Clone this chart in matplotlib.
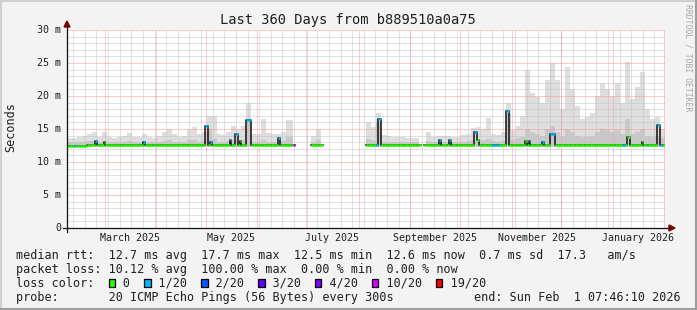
import datetime as dt
import numpy as np
import matplotlib
matplotlib.use("Agg")
import matplotlib.pyplot as plt
from matplotlib.patches import Rectangle, Polygon
from matplotlib.lines import Line2D
from matplotlib.transforms import Affine2D

plt.rcParams['font.family'] = ['DejaVu Sans Mono', 'DejaVu Sans']

W, H = 697, 310

# time window of the graph
start = dt.datetime(2025, 2, 6, 7, 46, 10)
end = dt.datetime(2026, 2, 1, 7, 46, 10)
n_days = 360

# smoke (ping spread) in ms, one value per 3 days
smoke_top = [13.6, 13.6, 13.8, 13.9, 14.3, 14.5, 13.8, 14.6, 13.8, 13.7,
             13.8, 13.9, 14.4, 13.8, 13.8, 14.3, 13.8, 13.7, 13.9, 14.6,
             15.0, 14.2, 13.8, 14.0, 15.0, 15.3, 14.2, 14.6, 17.0, 17.0,
             14.3, 14.1, 14.5, 15.5, 15.0, 15.5, 19.0, 14.2, 14.2, 16.5,
             14.4, 14.3, 14.2, 14.5, 16.4, 16.4, np.nan, np.nan, np.nan, 14.0,
             15.0, 15.9, np.nan, np.nan, np.nan, np.nan, np.nan, np.nan, np.nan, np.nan,
             16.0, 15.3, 17.5, 14.1, 14.0, 13.8, 13.8, 13.8, 13.7, 13.7,
             13.7, np.nan, 14.5, 13.8, 13.9, 14.0, 14.0, 13.8, 13.8, 14.1,
             14.2, 15.1, 15.3, 15.0, 16.6, 14.2, 14.1, 14.5, 19.0, 14.8,
             15.5, 17.0, 24.0, 20.5, 19.8, 19.0, 22.5, 25.0, 22.4, 18.0,
             24.4, 21.0, 18.5, 16.5, 16.8, 17.5, 20.0, 22.0, 21.0, 20.0,
             22.0, 19.0, 25.2, 19.5, 21.4, 23.6, 18.0, 16.5, 16.8, 15.0]
smoke_mid = [13.1, 13.1, 13.1, 13.1, 13.2, 13.2, 13.1, 13.2, 13.1, 13.1,
             13.1, 13.1, 13.2, 13.1, 13.1, 13.1, 13.1, 13.1, 13.1, 13.2,
             13.3, 13.1, 13.1, 13.1, 13.3, 13.3, 13.1, 13.2, 15.0, 13.5,
             13.1, 13.1, 13.2, 13.4, 13.3, 13.4, 16.5, 13.1, 13.1, 13.3,
             13.1, 13.1, 13.1, 13.2, 13.8, 13.8, np.nan, np.nan, np.nan, 13.1,
             13.3, 13.5, np.nan, np.nan, np.nan, np.nan, np.nan, np.nan, np.nan, np.nan,
             13.5, 13.3, 16.0, 13.1, 13.1, 13.1, 13.1, 13.1, 13.1, 13.1,
             13.1, np.nan, 13.2, 13.1, 13.1, 13.1, 13.1, 13.1, 13.1, 13.1,
             13.2, 13.4, 13.4, 13.3, 13.5, 13.2, 13.1, 13.2, 17.5, 13.4,
             13.6, 13.8, 15.0, 14.5, 14.3, 14.0, 15.0, 15.5, 14.5, 14.0,
             15.0, 14.5, 14.0, 13.8, 13.8, 14.0, 14.5, 15.0, 14.8, 14.5,
             14.8, 14.2, 16.5, 14.2, 14.5, 15.0, 14.0, 13.8, 14.0, 13.6]
smoke_low = 12.3

# median rtt base level (ms) from a given day on
median_level_from = [0, 12, 270]
median_level = [12.4, 12.55, 12.65]

# days without data: (first day, first day with data again)
gaps = [(137, 147), (154, 180), (213, 215)]

# median excursions: (day, number of days, median ms, loss class)
spikes = [(4, 1, 12.4, 1), (17, 1, 13.2, 1), (22, 1, 13.1, 0), (46, 1, 13.0, 1),
          (83, 2, 15.4, 1), (86, 1, 13.0, 1), (98, 1, 13.3, 1), (101, 2, 14.2, 1),
          (104, 1, 13.2, 0), (108, 3, 16.4, 1), (127, 1, 13.7, 1), (136, 1, 12.55, 5),
          (186, 1, 12.6, 1), (187, 2, 16.5, 1), (224, 1, 13.3, 1), (230, 1, 13.3, 1),
          (245, 2, 14.5, 1), (247, 1, 13.3, 0), (256, 2, 12.6, 1), (259, 1, 12.6, 1),
          (264, 2, 17.7, 1), (276, 1, 13.2, 0), (278, 1, 13.2, 1), (286, 1, 13.1, 1),
          (291, 3, 14.3, 1), (334, 2, 12.65, 1), (337, 2, 13.8, 0), (346, 1, 13.0, 0),
          (349, 1, 12.65, 1), (355, 2, 15.6, 1), (357, 1, 12.65, 1)]

loss_labels = ["0", "1/20", "2/20", "3/20", "4/20", "10/20", "19/20"]
loss_colors = ["#26ff00", "#00b8ff", "#0059ff", "#5e00ff", "#7e00ff", "#dd00ff", "#ff0000"]

month_labels = ["March 2025", "May 2025", "July 2025", "September 2025",
                "November 2025", "January 2026"]
label_months = [(2025, 3), (2025, 5), (2025, 7), (2025, 9), (2025, 11), (2026, 1)]

y_ticks = [0, 5, 10, 15, 20, 25, 30]
y_tick_labels = ["0", "5 m", "10 m", "15 m", "20 m", "25 m", "30 m"]

title = "Last 360 Days from b889510a0a75"
line_rtt = "median rtt:  12.7 ms avg  17.7 ms max  12.5 ms min  12.6 ms now  0.7 ms sd  17.3   am/s"
line_loss = "packet loss: 10.12 % avg  100.00 % max  0.00 % min  0.00 % now"
line_probe = "probe:       20 ICMP Echo Pings (56 Bytes) every 300s"
line_end = "end: Sun Feb  1 07:46:10 2026"


def day_of(t):
    return (t - start).total_seconds() / 86400.0


# build the daily series
days = np.arange(n_days + 1)
top = np.repeat(np.array(smoke_top, float), 3)
mid = np.repeat(np.array(smoke_mid, float), 3)
med = np.zeros(n_days)
for d0, lvl in zip(median_level_from, median_level):
    med[d0:] = lvl
loss = np.zeros(n_days, int)
for d, n, v, c in spikes:
    med[d:d + n] = v
    loss[d:d + n] = c
for g0, g1 in gaps:
    med[g0:g1] = np.nan
    top[g0:g1] = np.nan
    mid[g0:g1] = np.nan

fig = plt.figure(figsize=(W / 100, H / 100), dpi=100)
fig.patch.set_facecolor("#f3f3f3")
px = Affine2D().scale(1.0 / W, -1.0 / H).translate(0, 1) + fig.transFigure

ax = fig.add_axes([67 / W, (H - 228) / H, 598 / W, 198 / H])
ax.set_facecolor("white")
ax.set_xlim(0, n_days)
ax.set_ylim(0, 30)
ax.set_xticks([])
ax.set_yticks([])
for s in ax.spines.values():
    s.set_visible(False)

# smoke
top_e = np.append(top, top[-1])
mid_e = np.append(mid, mid[-1])
ax.fill_between(days, smoke_low, top_e, step="post", color="#dedede", lw=0, zorder=1)
ax.fill_between(days, smoke_low, mid_e, step="post", color="#c8c8c8", lw=0, zorder=1.1)

# grid (dotted)
minor_c = "#c4c4c4"
major_c = "#ff9494"
dots = (0, (1, 1))
grid_kw = dict(lw=0.72, linestyles=dots, snap=True)
ax.hlines([v for v in range(1, 31) if v % 5], 0, n_days, colors=minor_c, zorder=2, **grid_kw)
ax.hlines([5, 10, 15, 20, 25, 30], 0, n_days, colors=major_c, zorder=2.1, **grid_kw)
mondays = []
t = dt.datetime(2025, 2, 10)
while t < end:
    mondays.append(day_of(t))
    t += dt.timedelta(days=7)
ax.vlines(mondays, 0, 30, colors=minor_c, zorder=2, **grid_kw)
month_starts = []
y, m = 2025, 3
while dt.datetime(y, m, 1) < end:
    month_starts.append(day_of(dt.datetime(y, m, 1)))
    y, m = (y + 1, 1) if m == 12 else (y, m + 1)
ax.vlines(month_starts, 0, 30, colors=major_c, zorder=2.1, **grid_kw)

# median line
ax.step(days, np.append(med, med[-1]), where="post", color="#101010", lw=1.1, zorder=3)
for c, col in enumerate(loss_colors):
    sel = loss == c
    ax.hlines(med[sel], days[:-1][sel], days[:-1][sel] + 1, colors=col, lw=1.9,
              zorder=4 + (c > 0))

# axes with arrows
fig.add_artist(Line2D([63, 669], [228, 228], color="#101010", lw=0.9, transform=px))
fig.add_artist(Line2D([67, 67], [232, 26], color="#101010", lw=0.9, transform=px))
fig.add_artist(Polygon([[64, 27], [70, 27], [67, 21]], closed=True, color="#7f0000",
                       transform=px))
fig.add_artist(Polygon([[669, 225], [669, 231], [675, 228]], closed=True, color="#7f0000",
                       transform=px))

# frame
fig.add_artist(Line2D([0, W], [1, 1], color="#cfcfcf", lw=1.5, transform=px))
fig.add_artist(Line2D([1, 1], [0, H], color="#cfcfcf", lw=1.5, transform=px))
fig.add_artist(Line2D([0, W], [H - 1, H - 1], color="#9e9e9e", lw=1.5, transform=px))
fig.add_artist(Line2D([W - 1, W - 1], [0, H], color="#9e9e9e", lw=1.5, transform=px))

# tick labels
for v, lab in zip(y_ticks, y_tick_labels):
    fig.text(61, 228 - v * 6.6, lab, transform=px, ha="right", va="center",
             fontsize=7.2, color="#202020")
for (yy, mm), lab in zip(label_months, month_labels):
    xd = day_of(dt.datetime(yy, mm, 1)) + 15
    fig.text(67 + xd * 598 / n_days, 241, lab, transform=px, ha="center",
             va="baseline", fontsize=7.2, color="#202020")

fig.text(348, 24, title, transform=px, ha="center", va="baseline", fontsize=9.9,
         color="#202020")
fig.text(11, 127, "Seconds", transform=px, ha="center", va="center", rotation=90,
         fontsize=8.5, color="#202020")
fig.text(688, 4, "RRDTOOL / TOBI OETIKER", transform=px, ha="center", va="top",
         rotation=270, fontsize=5.9, color="#a8a8a8")

# legend block
fs = 8.5
cw = 0.602 * fs * 100 / 72
fig.text(16, 259, line_rtt, transform=px, va="baseline", fontsize=fs, color="#202020")
fig.text(16, 273, line_loss, transform=px, va="baseline", fontsize=fs, color="#202020")
s = "loss color:  "
box_at = []
for lab in loss_labels:
    box_at.append(len(s))
    s += "  " + lab + "  "
fig.text(16, 287, s, transform=px, va="baseline", fontsize=fs, color="#202020")
for i, col in zip(box_at, loss_colors):
    fig.add_artist(Rectangle((16 + i * cw + 0.5, 278.5), cw - 0.6, 8, facecolor=col,
                             edgecolor="black", lw=0.9, transform=px))
fig.text(16, 301, line_probe, transform=px, va="baseline", fontsize=fs, color="#202020")
fig.text(681, 301, line_end, transform=px, ha="right", va="baseline", fontsize=fs,
         color="#202020")

fig.savefig("out.png", dpi=100, facecolor=fig.get_facecolor())
